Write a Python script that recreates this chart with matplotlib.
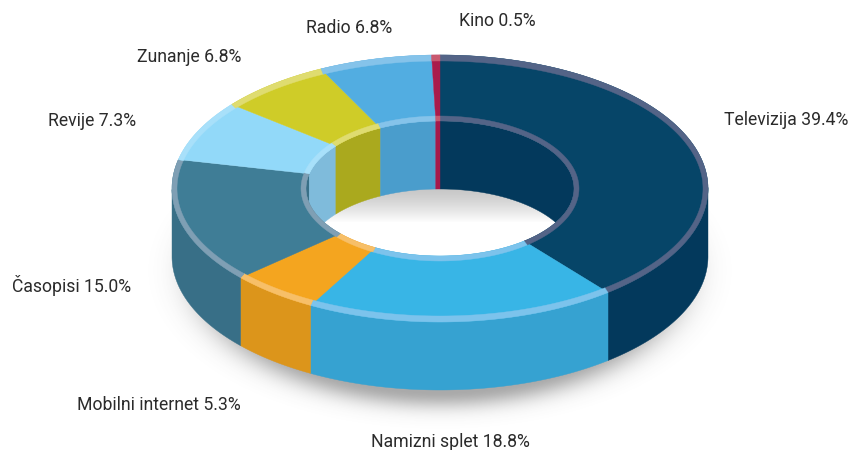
import numpy as np
import matplotlib
matplotlib.use("Agg")
import matplotlib.pyplot as plt
from matplotlib.patches import Ellipse

categories = ["Televizija", "Namizni splet", "Mobilni internet", "Časopisi",
              "Revije", "Zunanje", "Radio", "Kino"]
shares = [39.4, 18.8, 5.3, 15.0, 7.3, 6.8, 6.8, 0.5]

face_colors = ["#064568", "#38b5e6", "#f4a51f", "#3f7d96", "#92d9f9", "#cfcc28", "#52ade1", "#a91c4b"]
side_colors = ["#03395c", "#36a2d1", "#dc951b", "#386f87", "#7fbbdb", "#aaa91e", "#4a9dcc", "#a6194a"]
rim_colors = ["#546487", "#7cc3ec", "#f7bf68", "#7f9fb4", "#a8e0fa", "#dfdc70", "#85c3ea", "#c9596f"]

label_pos = [(724, 120), (371, 442), (77, 405), (12, 286), (48, 121), (137, 57), (306, 28), (459, 21)]

# geometry in pixels
CX, CY = 440.0, 188.5
RX_OUT, RY_OUT = 268.0, 133.5
RX_RIM_O, RY_RIM_O = 263.0, 127.5
RX_RIM_I, RY_RIM_I = 139.0, 72.5
RX_IN, RY_IN = 134.0, 67.5
DEPTH = 68.0
SKEW = 0.9  # degrees of drift towards the near side

plt.rcParams["font.family"] = ["Roboto", "DejaVu Sans"]
fig = plt.figure(figsize=(8.62, 4.5), dpi=100)
ax = fig.add_axes([0, 0, 1, 1])


def arc(rx, ry, a0, a1, dy=0.0):
    t = np.radians(np.linspace(a0, a1, max(int(abs(a1 - a0) * 2), 2)))
    t = t - np.radians(SKEW) * (1 - np.cos(t)) / 2
    return CX + rx * np.sin(t), CY - ry * np.cos(t) + dy


def band(p, q, color, z):
    x = np.concatenate([p[0], q[0][::-1]])
    y = np.concatenate([p[1], q[1][::-1]])
    return ax.fill(x, y, facecolor=color, edgecolor=color, lw=0.3, zorder=z)[0]


# ground shadow
gx, gy = np.meshgrid(np.arange(862) + 0.5, np.arange(450) + 0.5)
d = (np.hypot((gx - CX) / 245.0, (gy - (CY + DEPTH + 14)) / 133.0) - 1) * 133.0
shadow = np.zeros(gx.shape + (4,))
shadow[..., :3] = 0.33
shadow[..., 3] = 0.5 * np.exp(-np.clip(d + 12, 0, None) ** 2 / (2 * 12.0 ** 2))
ax.imshow(shadow, extent=(0, 862, 450, 0), aspect="auto", zorder=1, interpolation="bilinear")

# hole floor: grey fading to white
hole = Ellipse((CX, CY), 2 * RX_IN, 2 * RY_IN, transform=ax.transData, fc="white", ec="none", zorder=2)
ax.add_patch(hole)
grad = np.clip((gy - CY) / 34.0, 0, 1)
grey = np.zeros(gx.shape + (3,))
grey[...] = (0.78 + 0.22 * grad ** 1.3)[..., None]
im = ax.imshow(grey, extent=(0, 862, 450, 0), aspect="auto", zorder=3, interpolation="bilinear")
im.set_clip_path(hole)

edges = np.concatenate([[0], np.cumsum(shares)]) / np.sum(shares) * 360.0
for i, name in enumerate(categories):
    a0, a1 = edges[i], edges[i + 1]
    # outer side (near half only)
    lo, hi = max(a0, 90), min(a1, 270)
    if hi > lo:
        band(arc(RX_OUT, RY_OUT, lo, hi), arc(RX_OUT, RY_OUT, lo, hi, DEPTH), side_colors[i], 4)
    # inner wall (far half only)
    for lo, hi in ((a0, min(a1, 90)), (max(a0, 270), a1)):
        if hi > lo:
            w = band(arc(RX_IN, RY_IN, lo, hi), arc(RX_IN, RY_IN, lo, hi, DEPTH), side_colors[i], 5)
            w.set_clip_path(hole)
    # top face
    band(arc(RX_OUT, RY_OUT, a0, a1), arc(RX_IN, RY_IN, a0, a1), face_colors[i], 6)
    # rims
    band(arc(RX_OUT, RY_OUT, a0, a1), arc(RX_RIM_O, RY_RIM_O, a0, a1), rim_colors[i], 7)
    band(arc(RX_RIM_I, RY_RIM_I, a0, a1), arc(RX_IN, RY_IN, a0, a1), rim_colors[i], 7)
    # label
    ax.text(label_pos[i][0], label_pos[i][1], f"{name} {shares[i]:.1f}%", ha="left", va="center",
            fontsize=12.7, color="#2b2b2b", zorder=10)

ax.set_xlim(0, 862)
ax.set_ylim(450, 0)
ax.axis("off")
fig.savefig("out.png", dpi=100)
